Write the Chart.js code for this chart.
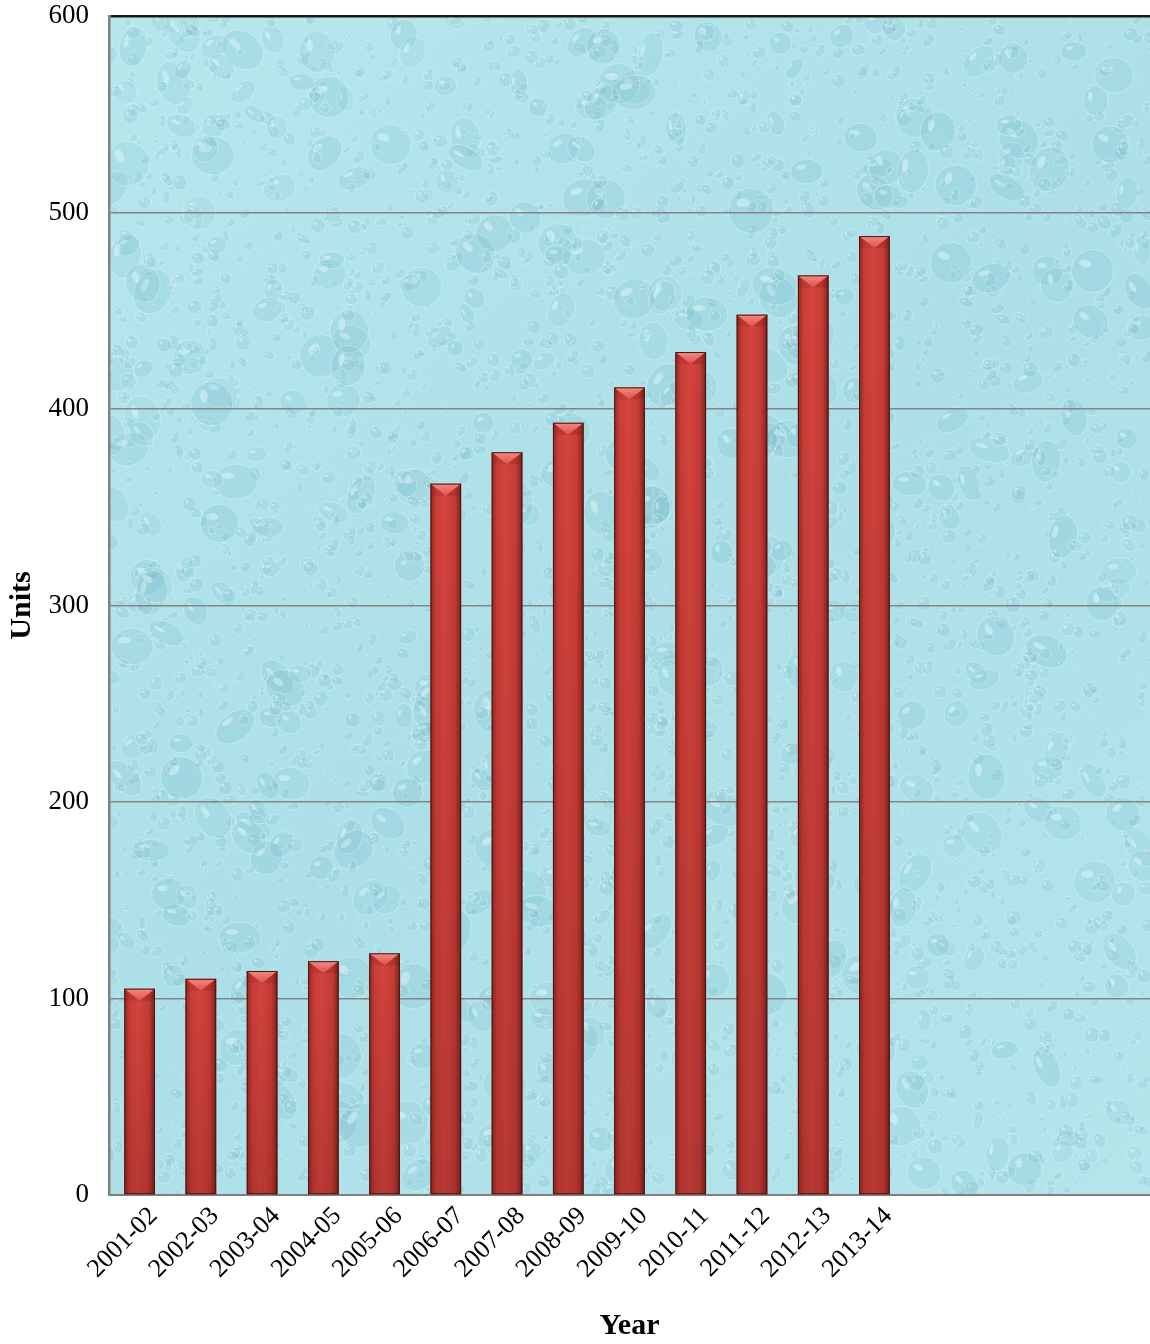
<!DOCTYPE html>
<html>
<head>
<meta charset="utf-8">
<title>Units by Year</title>
<script src="https://cdn.jsdelivr.net/npm/chart.js@4/dist/chart.umd.min.js"></script>
<style>
  html, body { margin: 0; padding: 0; background: #ffffff; }
  #wrap { width: 1150px; height: 1344px; }
</style>
</head>
<body>
<div id="wrap"><canvas id="chart" width="1150" height="1344"></canvas></div>
<script>
// Financial years shown on the x axis (trailing blanks keep the axis running on)
const years = ['2001-02', '2002-03', '2003-04', '2004-05', '2005-06', '2006-07', '2007-08',
               '2008-09', '2009-10', '2010-11', '2011-12', '2012-13', '2013-14', '', '', '', ''];
// Units per year
const units = [105, 110, 114, 119, 123, 362, 378, 393, 411, 429, 448, 468, 488];
// Value axis ticks
const unitTicks = [0, 100, 200, 300, 400, 500, 600];

const serif = "'Liberation Serif', 'Times New Roman', serif";

// Water-drop backdrop painted inside the plot area
function makeRng(seed) {
  let s = seed >>> 0;
  return function () {
    s = (s * 1664525 + 1013904223) >>> 0;
    return s / 4294967296;
  };
}
const dropBackdrop = {
  id: 'dropBackdrop',
  beforeDraw(chart) {
    const { ctx, chartArea: a } = chart;
    ctx.save();
    ctx.beginPath();
    ctx.rect(a.left, a.top, a.right - a.left, a.bottom - a.top);
    ctx.clip();
    const g = ctx.createLinearGradient(a.left, a.top, a.right, a.bottom);
    g.addColorStop(0, '#b6e7ed');
    g.addColorStop(0.5, '#acdfe7');
    g.addColorStop(1, '#b3e5eb');
    ctx.fillStyle = g;
    ctx.fillRect(a.left, a.top, a.right - a.left, a.bottom - a.top);
    const rnd = makeRng(20140331);
    const w = a.right - a.left, h = a.bottom - a.top;
    for (let i = 0; i < 4200; i++) {
      const x = a.left + rnd() * w;
      const y = a.top + rnd() * h;
      const big = rnd() < 0.1;
      const rx = big ? 9 + rnd() * 14 : 2 + rnd() * 6;
      const ry = rx * (0.55 + rnd() * 0.5);
      const rot = rnd() * Math.PI;
      // shaded body of the drop
      ctx.beginPath();
      ctx.ellipse(x, y, rx, ry, rot, 0, Math.PI * 2);
      ctx.fillStyle = 'rgba(95,172,190,' + (0.08 + rnd() * 0.09).toFixed(3) + ')';
      ctx.fill();
      // pale rim
      ctx.lineWidth = 1;
      ctx.strokeStyle = 'rgba(228,250,252,0.4)';
      ctx.stroke();
      // glint
      ctx.beginPath();
      ctx.ellipse(x - rx * 0.35, y - ry * 0.35, rx * 0.3, ry * 0.18, rot, 0, Math.PI * 2);
      ctx.fillStyle = 'rgba(240,255,255,0.4)';
      ctx.fill();
    }
    ctx.restore();
  }
};

// Bevelled cap and side shading on each bar
const bevelBars = {
  id: 'bevelBars',
  afterDatasetsDraw(chart) {
    const { ctx } = chart;
    const meta = chart.getDatasetMeta(0);
    ctx.save();
    meta.data.forEach((bar) => {
      const p = bar.getProps(['x', 'y', 'base', 'width'], true);
      const l = p.x - p.width / 2, r = p.x + p.width / 2;
      const t = p.y, b = p.base;
      // horizontal shading: darker towards both edges
      const hg = ctx.createLinearGradient(l, 0, r, 0);
      hg.addColorStop(0, 'rgba(70,10,8,0.45)');
      hg.addColorStop(0.18, 'rgba(70,10,8,0.06)');
      hg.addColorStop(0.45, 'rgba(255,120,110,0.06)');
      hg.addColorStop(0.8, 'rgba(70,10,8,0.1)');
      hg.addColorStop(1, 'rgba(50,5,5,0.55)');
      ctx.fillStyle = hg;
      ctx.fillRect(l, t, r - l, b - t);
      // slight darkening toward the base
      const vg = ctx.createLinearGradient(0, t, 0, b);
      vg.addColorStop(0, 'rgba(60,5,5,0)');
      vg.addColorStop(1, 'rgba(60,5,5,0.18)');
      ctx.fillStyle = vg;
      ctx.fillRect(l, t, r - l, b - t);
      // bevel cap
      const cap = Math.min(12, (b - t) / 2);
      ctx.beginPath();
      ctx.moveTo(l, t);
      ctx.lineTo(r, t);
      ctx.lineTo(p.x, t + cap);
      ctx.closePath();
      const cg = ctx.createLinearGradient(0, t, 0, t + cap);
      cg.addColorStop(0, '#f28a84');
      cg.addColorStop(1, '#de524b');
      ctx.fillStyle = cg;
      ctx.fill();
      ctx.beginPath();
      ctx.moveTo(l, t);
      ctx.lineTo(p.x, t + cap);
      ctx.lineTo(l, t + cap);
      ctx.closePath();
      ctx.fillStyle = 'rgba(120,20,15,0.15)';
      ctx.fill();
      ctx.beginPath();
      ctx.moveTo(r, t);
      ctx.lineTo(p.x, t + cap);
      ctx.lineTo(r, t + cap);
      ctx.closePath();
      ctx.fillStyle = 'rgba(120,20,15,0.22)';
      ctx.fill();
      // outline
      ctx.strokeStyle = '#4a1511';
      ctx.lineWidth = 1;
      ctx.strokeRect(l + 0.5, t + 0.5, r - l - 1, b - t - 1);
    });
    ctx.restore();
  }
};

new Chart(document.getElementById('chart'), {
  type: 'bar',
  data: {
    labels: years,
    datasets: [{
      label: 'Units',
      data: units,
      backgroundColor: '#d1413a',
      borderWidth: 0,
      barPercentage: 0.5,
      categoryPercentage: 1.0
    }]
  },
  options: {
    responsive: false,
    animation: false,
    layout: { padding: { top: 16, right: 0, left: 0, bottom: 0 } },
    plugins: {
      legend: { display: false },
      tooltip: { enabled: false }
    },
    scales: {
      x: {
        grid: { display: false, drawTicks: false },
        border: { display: true, color: '#808080', width: 2 },
        ticks: {
          color: '#000',
          font: { family: serif, size: 26 },
          minRotation: 45,
          maxRotation: 45,
          autoSkip: false,
          labelOffset: 14,
          padding: 6
        },
        title: {
          display: true,
          text: 'Year',
          color: '#000',
          font: { family: serif, size: 30, weight: 'bold' },
          padding: { top: 0, bottom: 0 }
        },
        afterFit(scale) {
          scale.height = 149;
          scale.paddingLeft = 0;
          scale.paddingRight = 0;
        }
      },
      y: {
        min: 0,
        max: 600,
        afterBuildTicks(scale) { scale.ticks = unitTicks.map(v => ({ value: v })); },
        grid: {
          color: (c) => (c.tick && c.tick.value === 600 ? '#1a1a1a' : '#858585'),
          lineWidth: (c) => (c.tick && c.tick.value === 600 ? 2.5 : 1.5),
          drawTicks: false
        },
        border: { display: true, color: '#808080', width: 2.5 },
        ticks: {
          color: '#000',
          font: { family: serif, size: 27 },
          padding: 20
        },
        title: {
          display: true,
          text: 'Units',
          color: '#000',
          font: { family: serif, size: 30, weight: 'bold' },
          padding: { top: 4, bottom: 0 }
        },
        afterFit(scale) {
          scale.width = 109;
          scale.paddingTop = 0;
          scale.paddingBottom = 0;
        }
      }
    }
  },
  plugins: [dropBackdrop, bevelBars]
});
</script>
</body>
</html>
